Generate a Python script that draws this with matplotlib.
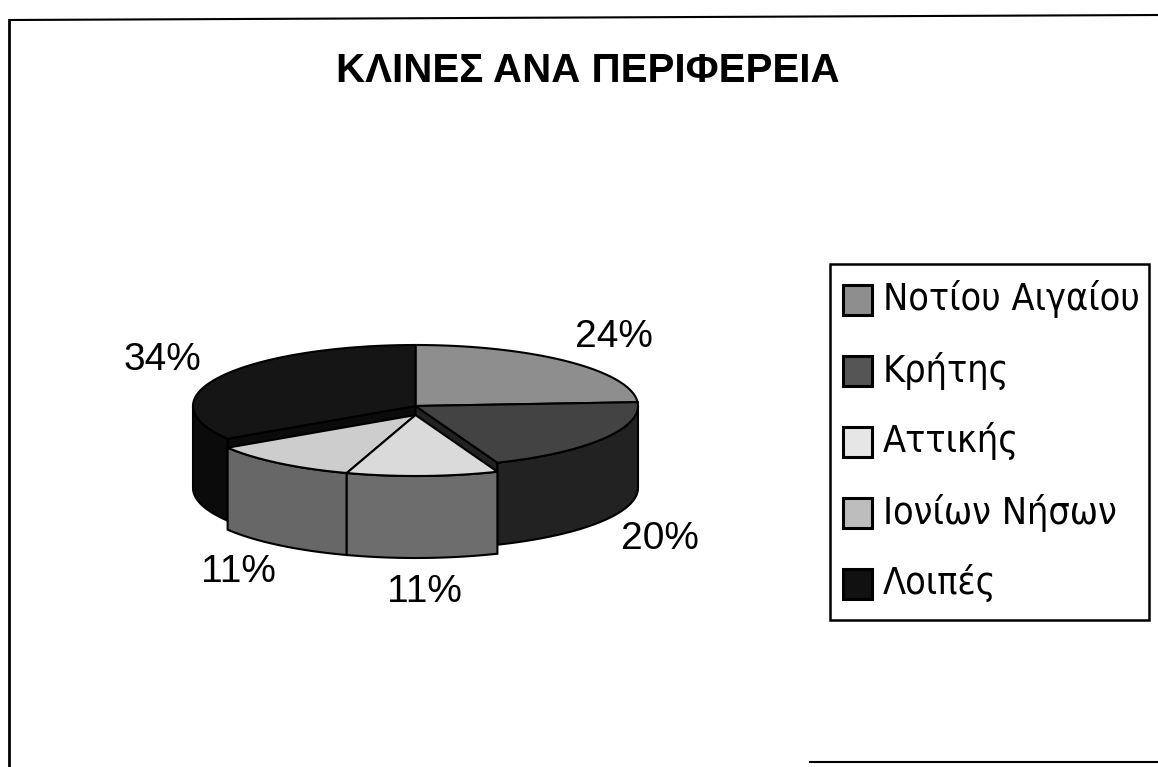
import numpy as np
import matplotlib
matplotlib.use("Agg")
import matplotlib.pyplot as plt
from matplotlib.patches import Polygon, Rectangle

# ---- data ----
title = "ΚΛΙΝΕΣ ΑΝΑ ΠΕΡΙΦΕΡΕΙΑ"
regions = ["Νοτίου Αιγαίου", "Κρήτης", "Αττικής", "Ιονίων Νήσων", "Λοιπές"]
shares = [24, 20, 11, 11, 34]
top_colors = ["#8e8e8e", "#434343", "#dadada", "#cdcdcd", "#151515"]
legend_colors = ["#8e8e8e", "#555555", "#e6e6e6", "#bdbdbd", "#111111"]
pulled = [0, 0, 1, 1, 0]

W, H = 1158, 767
fig = plt.figure(figsize=(W / 100, H / 100), dpi=100)
ax = fig.add_axes([0, 0, 1, 1])
ax.set_xlim(0, W)
ax.set_ylim(H, 0)
ax.axis("off")

# frame of the scanned chart
ax.plot([10, W], [20, 15], color="black", lw=1.5)
ax.plot([9, 9], [20, H], color="black", lw=2)
ax.plot([810, W], [762, 762], color="black", lw=1.5)

ax.text(588, 71, title, ha="center", va="center", fontsize=29, fontweight="bold",
        family=["Liberation Sans Narrow", "Liberation Sans", "DejaVu Sans"])

# ---- 3D pie geometry ----
cx, cy, rx, ry, depth = 415.5, 406, 222.5, 61, 82
pull_px = 9

fr = np.array(shares, dtype=float) / sum(shares)
ends = 90 - 360 * np.cumsum(fr)
starts = ends + 360 * fr


def darker(c, f=0.5):
    r, g, b = matplotlib.colors.to_rgb(c)
    return (r * f, g * f, b * f)


def rim(theta, dy, z=0.0):
    t = np.radians(theta)
    return cx + rx * np.cos(t), cy + dy - ry * np.sin(t) + z


order = sorted(range(len(shares)),
               key=lambda i: -np.sin(np.radians((starts[i] + ends[i]) / 2)))

for i in order:
    a, b = ends[i], starts[i]
    dy = pulled[i] * pull_px
    apex = (cx, cy + dy)
    side_c = darker(top_colors[i], 0.5)
    # radial walls
    for ang, normal in ((a, a - 90), (b, b + 90)):
        if np.sin(np.radians(normal)) < 0:
            p = rim(ang, dy)
            q = rim(ang, dy, depth)
            ax.add_patch(Polygon([apex, p, q, (apex[0], apex[1] + depth)],
                                 closed=True, facecolor=side_c,
                                 edgecolor="black", lw=1.5))
    # outer front side
    for k in (-1, 0, 1):
        lo, hi = max(a, -180 + 360 * k), min(b, 360 * k)
        if hi > lo:
            th = np.linspace(lo, hi, 80)
            upper = [rim(t, dy) for t in th]
            lower = [rim(t, dy, depth) for t in th[::-1]]
            ax.add_patch(Polygon(upper + lower, closed=True, facecolor=side_c,
                                 edgecolor="black", lw=1.5))
    # top face
    th = np.linspace(a, b, 120)
    ax.add_patch(Polygon([apex] + [rim(t, dy) for t in th], closed=True,
                         facecolor=top_colors[i], edgecolor="black", lw=1.5))

# percentage labels
for i, s in enumerate(shares):
    m = np.radians((starts[i] + ends[i]) / 2)
    x = cx + 1.3 * rx * np.cos(m)
    y = cy - 1.55 * ry * np.sin(m)
    if np.sin(m) < 0:
        y += depth + pulled[i] * pull_px
    ax.text(x, y, f"{s}%", ha="center", va="center", fontsize=28,
            family=["Liberation Sans", "DejaVu Sans"])

# ---- legend ----
lx0, ly0, lx1, ly1 = 830, 264, 1149, 620
ax.add_patch(Rectangle((lx0, ly0), lx1 - lx0, ly1 - ly0, facecolor="white",
                       edgecolor="black", lw=1.8))
first_y, step = 299.5, 71
for i, name in enumerate(regions):
    yc = first_y + i * step
    ax.add_patch(Rectangle((843, yc - 15), 29, 30, facecolor=legend_colors[i],
                           edgecolor="black", lw=2.2))
    ax.text(883, yc, name, ha="left", va="center", fontsize=27,
            family=["DejaVu Sans"], fontstretch="condensed")

fig.savefig("out.png", dpi=100, facecolor="white")
